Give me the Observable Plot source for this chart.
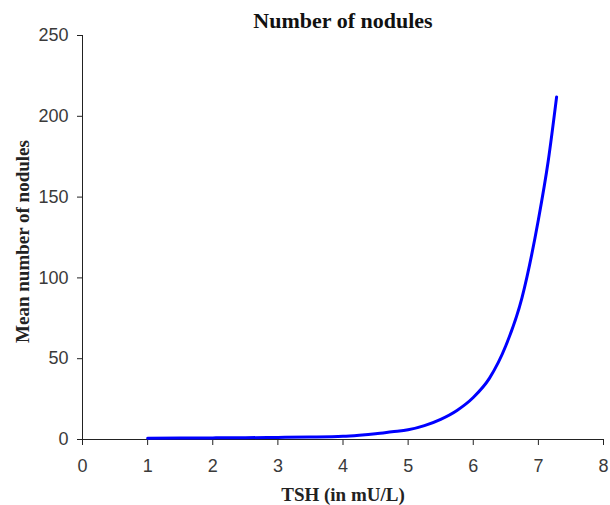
<!DOCTYPE html>
<html>
<head>
<meta charset="utf-8">
<script src="https://cdn.jsdelivr.net/npm/d3@7"></script>
<script src="https://cdn.jsdelivr.net/npm/@observablehq/plot@0.6"></script>
<style>
  html, body { margin: 0; padding: 0; background: #fff; }
</style>
</head>
<body>
<div id="chart"></div>
<script>
const titleText = "Number of nodules";
const xLabel = "TSH (in mU/L)";
const yLabel = "Mean number of nodules";
const xTicks = [0, 1, 2, 3, 4, 5, 6, 7, 8];
const yTicks = [0, 50, 100, 150, 200, 250];
const tsh     = [1, 1.5, 2, 2.5, 3, 3.5, 4, 4.25, 4.5, 4.75, 5, 5.25, 5.5, 5.75, 6, 6.25, 6.5, 6.75, 7, 7.15, 7.28];
const nodules = [0.8, 0.9, 1.0, 1.1, 1.3, 1.5, 2.0, 2.7, 3.6, 4.8, 6.0, 8.6, 12.5, 18, 26, 38, 58, 88, 136, 172, 212];

const data = tsh.map((x, i) => ({x, y: nodules[i]}));
const serif = "'Liberation Serif', 'Times New Roman', serif";

const chart = Plot.plot({
  width: 610,
  height: 505,
  marginLeft: 82,
  marginRight: 7,
  marginTop: 35,
  marginBottom: 66,
  style: {fontSize: "18px", fontFamily: "'Liberation Sans', Arial, sans-serif", color: "#3a3a3a", background: "#fff"},
  x: {domain: [0, 8]},
  y: {domain: [0, 250]},
  marks: [
    Plot.axisX({ticks: xTicks, tickSize: 6, tickPadding: 14, label: null, stroke: "#222"}),
    Plot.axisY({ticks: yTicks, tickSize: 5, tickPadding: 9, label: null, stroke: "#222"}),
    Plot.ruleX([0], {stroke: "#222"}),
    Plot.ruleY([0], {stroke: "#222"}),
    Plot.line(data, {x: "x", y: "y", stroke: "#0000ff", strokeWidth: 3, curve: "monotone-x"}),
    Plot.text([titleText], {frameAnchor: "top", textAnchor: "middle", dy: -15, fontFamily: serif, fontWeight: "bold", fontSize: 22, fill: "#111", lineAnchor: "middle"}),
    Plot.text([xLabel], {frameAnchor: "bottom", textAnchor: "middle", dy: 55, fontFamily: serif, fontWeight: "bold", fontSize: 19, fill: "#222", lineAnchor: "middle"}),
    Plot.text([yLabel], {frameAnchor: "left", textAnchor: "middle", dx: -60, dy: 4, rotate: -90, fontFamily: serif, fontWeight: "bold", fontSize: 19, fill: "#222", lineAnchor: "middle"})
  ]
});
document.getElementById("chart").appendChild(chart);
</script>
</body>
</html>
